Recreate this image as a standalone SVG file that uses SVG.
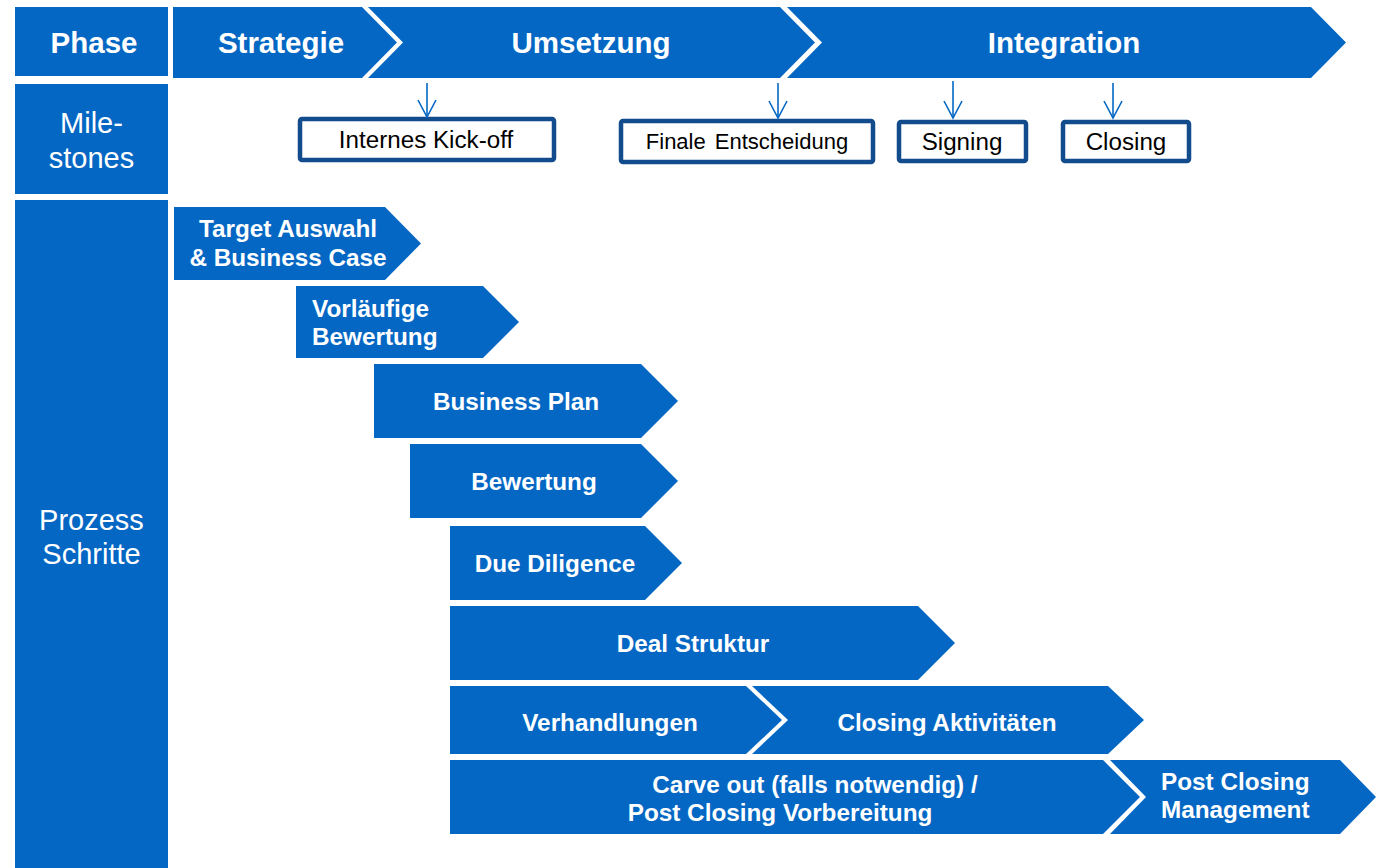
<svg xmlns="http://www.w3.org/2000/svg" width="1382" height="868" viewBox="0 0 1382 868">
  <defs>
    <style>
      .blk { fill: #0567C4; }
      .hd { font-family: "Liberation Sans", Arial, sans-serif; font-weight: bold; font-size: 29.5px; fill: #ffffff; text-anchor: middle; }
      .side { font-family: "Liberation Sans", Arial, sans-serif; font-size: 29px; fill: #ffffff; text-anchor: middle; }
      .step { font-family: "Liberation Sans", Arial, sans-serif; font-weight: bold; font-size: 24.3px; fill: #ffffff; text-anchor: middle; }
      .stepL { font-family: "Liberation Sans", Arial, sans-serif; font-weight: bold; font-size: 24.3px; fill: #ffffff; }
      .ms rect { fill: #ffffff; stroke: #134C8C; stroke-width: 4.5; rx: 2; }
      .ms text { font-family: "Liberation Sans", Arial, sans-serif; font-size: 24.2px; fill: #000000; text-anchor: middle; }
      .ms text.small { font-size: 22px; word-spacing: 3px; }
      .arr { stroke: #0567C4; stroke-width: 1.6; fill: none; }
    </style>
    <!-- open V arrowhead, drawn along +x so orient="auto" follows the line -->
    <marker id="vhead" viewBox="0 0 20 20" refX="18" refY="10" markerWidth="20" markerHeight="20" markerUnits="userSpaceOnUse" orient="auto">
      <path d="M1,1 L18,10 L1,19" fill="none" stroke="#0567C4" stroke-width="1.6"/>
    </marker>
  </defs>

  <rect width="1382" height="868" fill="#ffffff"/>

  <!-- Row headers -->
  <g id="hdr-phase">
    <rect class="blk" x="15" y="7" width="153" height="69"/>
    <text class="hd" x="94" y="53">Phase</text>
  </g>
  <g id="hdr-milestones">
    <rect class="blk" x="15" y="84" width="153" height="110"/>
    <text class="side" x="91.5" y="133">Mile-</text>
    <text class="side" x="91.5" y="168">stones</text>
  </g>
  <g id="hdr-steps">
    <rect class="blk" x="15" y="200" width="153" height="668"/>
    <text class="side" x="91.5" y="530">Prozess</text>
    <text class="side" x="91.5" y="564">Schritte</text>
  </g>

  <!-- Phase bar -->
  <g id="phase-strategie">
    <polygon class="blk" points="173,7 362,7 397,42.5 362,78 173,78"/>
    <text class="hd" x="281" y="53">Strategie</text>
  </g>
  <g id="phase-umsetzung">
    <polygon class="blk" points="368,7 780,7 815,42.5 780,78 368,78 403,42.5"/>
    <text class="hd" x="591" y="53">Umsetzung</text>
  </g>
  <g id="phase-integration">
    <polygon class="blk" points="787,7 1311,7 1346,42.5 1311,78 787,78 822,42.5"/>
    <text class="hd" x="1064" y="53">Integration</text>
  </g>

  <!-- Milestones -->
  <g id="ms-kickoff" class="ms">
    <rect x="300" y="119" width="254" height="41"/>
    <text x="426" y="148">Internes Kick-off</text>
  </g>
  <g id="ms-entscheidung" class="ms">
    <rect x="621" y="121" width="252" height="41"/>
    <text class="small" x="747" y="149">Finale Entscheidung</text>
  </g>
  <g id="ms-signing" class="ms">
    <rect x="899" y="122" width="127" height="39"/>
    <text x="962" y="150">Signing</text>
  </g>
  <g id="ms-closing" class="ms">
    <rect x="1063" y="122" width="126" height="39"/>
    <text x="1126" y="150">Closing</text>
  </g>

  <!-- Milestone pointers -->
  <g id="connectors">
    <line class="arr" x1="427" y1="83" x2="427" y2="117" marker-end="url(#vhead)"/>
    <line class="arr" x1="778" y1="83" x2="778" y2="118" marker-end="url(#vhead)"/>
    <line class="arr" x1="953" y1="81" x2="953" y2="118" marker-end="url(#vhead)"/>
    <line class="arr" x1="1113" y1="83" x2="1113" y2="118" marker-end="url(#vhead)"/>
  </g>

  <!-- Process steps -->
  <g id="step-target">
    <polygon class="blk" points="174,207 385,207 421,243.5 385,280 174,280"/>
    <text class="step" x="288" y="237">Target Auswahl</text>
    <text class="step" x="288" y="266">&amp; Business Case</text>
  </g>
  <g id="step-vorlaeufig">
    <polygon class="blk" points="296,286 483,286 519,322 483,358 296,358"/>
    <text class="stepL" x="312" y="317">Vorläufige</text>
    <text class="stepL" x="312" y="345">Bewertung</text>
  </g>
  <g id="step-businessplan">
    <polygon class="blk" points="374,364 641,364 678,401 641,438 374,438"/>
    <text class="step" x="516" y="410">Business Plan</text>
  </g>
  <g id="step-bewertung">
    <polygon class="blk" points="410,444 641,444 678,481 641,518 410,518"/>
    <text class="step" x="534" y="490">Bewertung</text>
  </g>
  <g id="step-duediligence">
    <polygon class="blk" points="450,526 645,526 682,563 645,600 450,600"/>
    <text class="step" x="555" y="572">Due Diligence</text>
  </g>
  <g id="step-deal">
    <polygon class="blk" points="450,606 918,606 955,643 918,680 450,680"/>
    <text class="step" x="693" y="652">Deal Struktur</text>
  </g>
  <g id="step-verhandlungen">
    <polygon class="blk" points="450,686 746,686 782,720 746,754 450,754"/>
    <text class="step" x="610" y="731">Verhandlungen</text>
  </g>
  <g id="step-closingakt">
    <polygon class="blk" points="752,686 1108,686 1144,720 1108,754 752,754 788,720"/>
    <text class="step" x="947" y="731">Closing Aktivitäten</text>
  </g>
  <g id="step-carveout">
    <polygon class="blk" points="450,760 1103,760 1140,797 1103,834 450,834"/>
    <text class="step" x="815" y="793">Carve out (falls notwendig) /</text>
    <text class="step" x="780" y="821">Post Closing Vorbereitung</text>
  </g>
  <g id="step-postclosing">
    <polygon class="blk" points="1110,760 1340,760 1376,797 1340,834 1110,834 1146,797"/>
    <text class="stepL" x="1161" y="790">Post Closing</text>
    <text class="stepL" x="1161" y="818">Management</text>
  </g>
</svg>
